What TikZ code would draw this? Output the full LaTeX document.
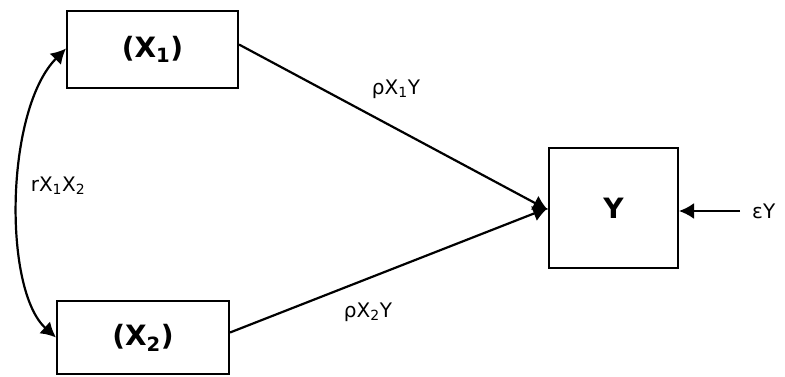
\documentclass[tikz,border=0pt]{standalone}
\usepackage{fontspec}
\setmainfont{DejaVu Sans}
\usetikzlibrary{arrows.meta}
\begin{document}
\begin{tikzpicture}[x=1pt,y=-1pt,
  varbox/.style={draw,line width=2pt,inner sep=0pt,font=\bfseries\fontsize{28}{32}\selectfont},
  coef/.style={font=\fontsize{20}{24}\selectfont,inner sep=1pt},
  path/.style={line width=2.2pt,-{Latex[length=15pt,width=16pt]}}]
  \useasboundingbox (0,0) rectangle (785,376);
  % observed variables
  \node[varbox,minimum width=171pt,minimum height=77pt] (X1) at (152.5,49.5) {(X\textsubscript{1})};
  \node[varbox,minimum width=172pt,minimum height=73pt] (X2) at (143,337.5) {(X\textsubscript{2})};
  \node[varbox,minimum width=129pt,minimum height=120pt] (Y) at (613.5,208) {Y};
  % error term
  \coordinate (eps) at (740,211);
  \node[coef,anchor=west] (epslab) at (751,211) {εY};
  % correlation between the predictors
  \draw[line width=2.2pt,{Latex[length=15pt,width=16pt]}-{Latex[length=15pt,width=16pt]}]
    ([yshift=1pt]X1.west) .. controls (5,110) and (3,290) .. (X2.west);
  \node[coef] (r12) at (58,186) {rX\textsubscript{1}X\textsubscript{2}};
  % direct paths
  \draw[path] ([yshift=5pt]X1.east) -- ([yshift=-2pt]Y.west);
  \draw[path] ([yshift=5pt]X2.east) -- (Y.west);
  \draw[path] (eps) -- (Y.east |- eps);
  \node[coef] (p1) at (396,89) {ρX\textsubscript{1}Y};
  \node[coef] (p2) at (368,312) {ρX\textsubscript{2}Y};
\end{tikzpicture}
\end{document}
